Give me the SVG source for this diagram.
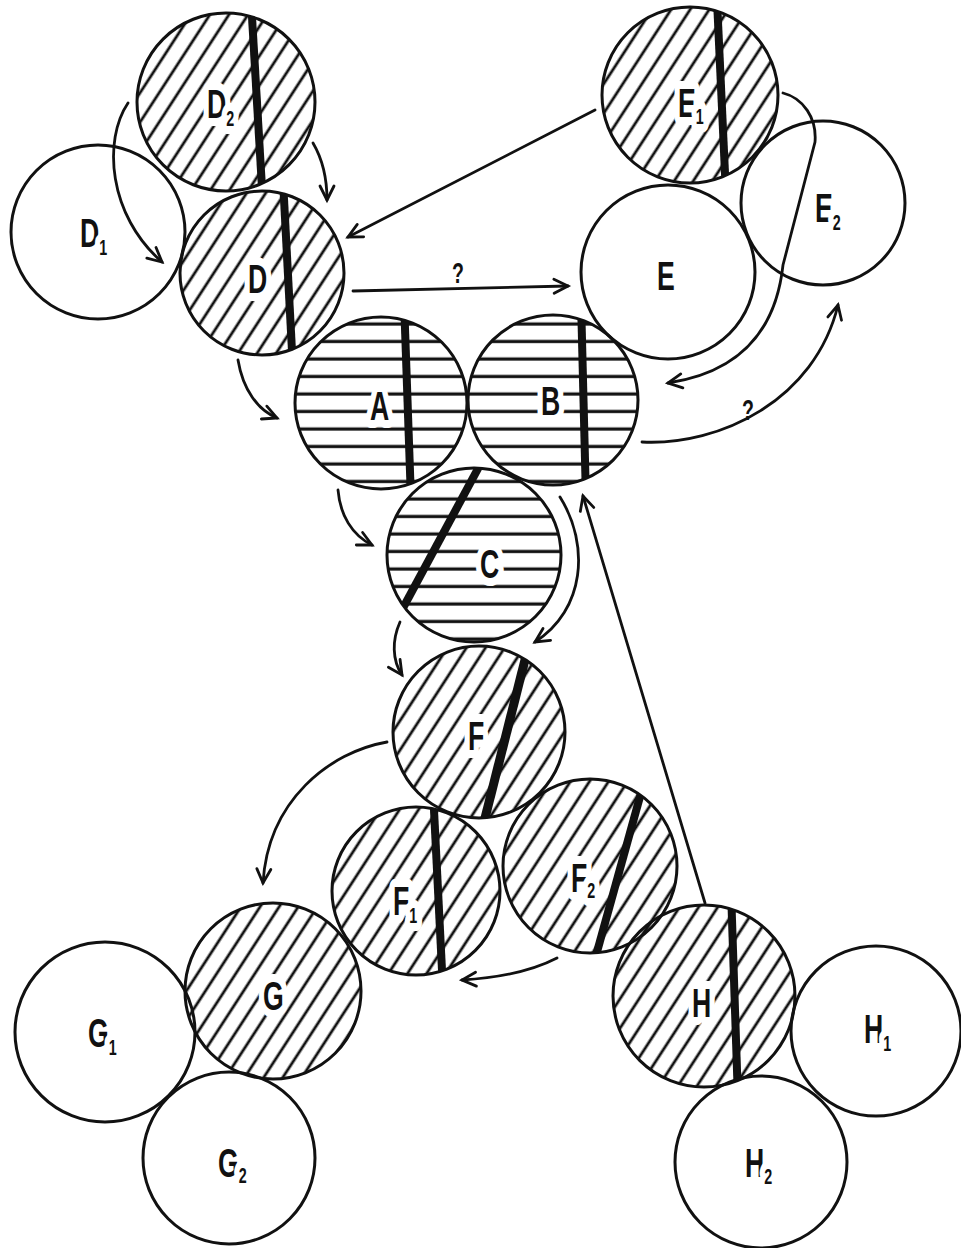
<svg xmlns="http://www.w3.org/2000/svg" width="961" height="1248" viewBox="0 0 961 1248">
<style>
.bg{fill:#fff}
.ol{fill:none;stroke:#111;stroke-width:3}
.bar{stroke:#111;stroke-width:8;stroke-linecap:butt}
.lbl{font-family:"Liberation Sans",Arial,sans-serif;font-weight:bold;font-size:41px;fill:#111;stroke:#fff;stroke-width:16px;stroke-linejoin:round;paint-order:stroke}
.sub{font-size:22px}
.q{font-family:"Liberation Sans",Arial,sans-serif;font-weight:bold;font-size:30px;fill:#111}
.con{fill:none;stroke:#111;stroke-width:2.8;stroke-linecap:round}
.arr{marker-end:url(#ah)}
</style>
<defs>
<pattern id="diag" patternUnits="userSpaceOnUse" width="16" height="16" patternTransform="rotate(33)">
<line x1="8" y1="-2" x2="8" y2="18" stroke="#111" stroke-width="2.8"/>
</pattern>
<pattern id="hor" patternUnits="userSpaceOnUse" width="20" height="17.5">
<line x1="-2" y1="9" x2="22" y2="9" stroke="#111" stroke-width="3.2"/>
</pattern>
<marker id="ah" viewBox="0 0 16 16" refX="15" refY="8" markerWidth="16" markerHeight="16" markerUnits="userSpaceOnUse" orient="auto" overflow="visible">
<path d="M1,1 L15,8 L1,15" fill="none" stroke="#111" stroke-width="2.8" stroke-linecap="round" stroke-linejoin="miter"/>
</marker>
<clipPath id="cD2"><circle cx="226" cy="102" r="89"/></clipPath>
<clipPath id="cD"><circle cx="262" cy="273" r="82"/></clipPath>
<clipPath id="cE1"><circle cx="690" cy="95" r="88"/></clipPath>
<clipPath id="cA"><circle cx="381" cy="403" r="86"/></clipPath>
<clipPath id="cB"><circle cx="553" cy="400" r="85"/></clipPath>
<clipPath id="cC"><circle cx="474" cy="555" r="87"/></clipPath>
<clipPath id="cF"><circle cx="479" cy="732" r="86"/></clipPath>
<clipPath id="cF1"><circle cx="416" cy="891" r="84"/></clipPath>
<clipPath id="cF2"><circle cx="590" cy="866" r="87"/></clipPath>
<clipPath id="cH"><circle cx="704" cy="996" r="91"/></clipPath>
</defs>
<rect class="bg" x="0" y="0" width="961" height="1248"/>

<g id="node-D2">
<circle cx="226" cy="102" r="89" fill="url(#diag)"/>
<line class="bar" x1="251" y1="0" x2="263" y2="205" clip-path="url(#cD2)"/>
<circle class="ol" cx="226" cy="102" r="89"/>
<text class="lbl" transform="translate(207,118) scale(0.65,1)">D<tspan class="sub" dy="8">2</tspan></text>
</g>
<g id="node-D1">
<circle class="ol" cx="98" cy="232" r="87"/>
<text class="lbl" transform="translate(80,247) scale(0.65,1)">D<tspan class="sub" dy="8">1</tspan></text>
</g>
<g id="node-D">
<circle cx="262" cy="273" r="82" fill="url(#diag)"/>
<line class="bar" x1="283" y1="180" x2="293" y2="370" clip-path="url(#cD)"/>
<circle class="ol" cx="262" cy="273" r="82"/>
<text class="lbl" transform="translate(248,293) scale(0.65,1)">D</text>
</g>
<g id="node-E1">
<circle cx="690" cy="95" r="88" fill="url(#diag)"/>
<line class="bar" x1="717" y1="0" x2="726" y2="195" clip-path="url(#cE1)"/>
<circle class="ol" cx="690" cy="95" r="88"/>
<text class="lbl" transform="translate(678,117) scale(0.65,1)">E<tspan class="sub" dy="7">1</tspan></text>
</g>
<g id="node-E">
<circle class="ol" cx="668" cy="272" r="87"/>
<text class="lbl" transform="translate(657,290) scale(0.65,1)">E</text>
</g>
<g id="node-E2">
<circle class="ol" cx="823" cy="203" r="82"/>
<text class="lbl" transform="translate(815,222) scale(0.65,1)">E<tspan class="sub" dy="8">2</tspan></text>
</g>
<g id="node-A">
<circle cx="381" cy="403" r="86" fill="url(#hor)"/>
<line class="bar" x1="404" y1="300" x2="411" y2="500" clip-path="url(#cA)"/>
<circle class="ol" cx="381" cy="403" r="86"/>
<text class="lbl" transform="translate(370,420) scale(0.65,1)">A</text>
</g>
<g id="node-B">
<circle cx="553" cy="400" r="85" fill="url(#hor)"/>
<line class="bar" x1="581" y1="300" x2="586" y2="500" clip-path="url(#cB)"/>
<circle class="ol" cx="553" cy="400" r="85"/>
<text class="lbl" transform="translate(541,415) scale(0.65,1)">B</text>
</g>
<g id="node-C">
<circle cx="474" cy="555" r="87" fill="url(#hor)"/>
<line class="bar" x1="488" y1="450" x2="396" y2="621" clip-path="url(#cC)"/>
<circle class="ol" cx="474" cy="555" r="87"/>
<text class="lbl" transform="translate(480,578) scale(0.65,1)">C</text>
</g>
<g id="node-F">
<circle cx="479" cy="732" r="86" fill="url(#diag)"/>
<line class="bar" x1="530" y1="640" x2="482" y2="830" style="stroke-width:9" clip-path="url(#cF)"/>
<circle class="ol" cx="479" cy="732" r="86"/>
<text class="lbl" transform="translate(468,750) scale(0.65,1)">F</text>
</g>
<g id="node-F1">
<circle cx="416" cy="891" r="84" fill="url(#diag)"/>
<line class="bar" x1="433" y1="790" x2="443" y2="990" clip-path="url(#cF1)"/>
<circle class="ol" cx="416" cy="891" r="84"/>
<text class="lbl" transform="translate(393,915) scale(0.65,1)">F<tspan class="sub" dy="8">1</tspan></text>
</g>
<g id="node-F2">
<circle cx="590" cy="866" r="87" fill="url(#diag)"/>
<line class="bar" x1="646" y1="775" x2="592" y2="970" clip-path="url(#cF2)"/>
<circle class="ol" cx="590" cy="866" r="87"/>
<text class="lbl" transform="translate(571,892) scale(0.65,1)">F<tspan class="sub" dy="6">2</tspan></text>
</g>
<g id="node-G">
<circle cx="273" cy="991" r="88" fill="url(#diag)"/>
<circle class="ol" cx="273" cy="991" r="88"/>
<text class="lbl" transform="translate(263,1010) scale(0.65,1)">G</text>
</g>
<g id="node-G1">
<circle class="ol" cx="105" cy="1032" r="90"/>
<text class="lbl" transform="translate(88,1047) scale(0.65,1)">G<tspan class="sub" dy="8">1</tspan></text>
</g>
<g id="node-G2">
<circle class="ol" cx="229" cy="1158" r="86"/>
<text class="lbl" transform="translate(218,1177) scale(0.65,1)">G<tspan class="sub" dy="6">2</tspan></text>
</g>
<g id="node-H">
<circle cx="704" cy="996" r="91" fill="url(#diag)"/>
<line class="bar" x1="731" y1="890" x2="738" y2="1100" clip-path="url(#cH)"/>
<circle class="ol" cx="704" cy="996" r="91"/>
<text class="lbl" transform="translate(692,1017) scale(0.65,1)">H</text>
</g>
<g id="node-H1">
<circle class="ol" cx="876" cy="1031" r="85"/>
<text class="lbl" transform="translate(864,1043) scale(0.65,1)">H<tspan class="sub" dy="8">1</tspan></text>
</g>
<g id="node-H2">
<circle class="ol" cx="761" cy="1162" r="86"/>
<text class="lbl" transform="translate(745,1177) scale(0.65,1)">H<tspan class="sub" dy="7">2</tspan></text>
</g>

<g id="connectors">
<path class="con arr" d="M313,143 C323,160 327,180 327,200"/>
<path class="con arr" d="M128,103 C103,140 108,215 162,262"/>
<path class="con arr" d="M595,110 L348,237"/>
<path class="con arr" d="M353,291 L568,286"/>
<path class="con arr" d="M783,93 C803,98 817,118 815,142 L783,265 C776,330 740,372 668,383"/>
<path class="con arr" d="M642,442 C720,446 815,400 838,305"/>
<path class="con arr" d="M238,360 C243,390 258,410 277,418"/>
<path class="con arr" d="M338,490 C340,515 352,535 372,545"/>
<path class="con arr" d="M560,497 C590,545 585,610 535,642"/>
<path class="con arr" d="M400,622 C392,640 392,660 402,675"/>
<path class="con arr" d="M705,903 L583,496"/>
<path class="con arr" d="M387,742 C330,752 268,800 263,883"/>
<path class="con arr" d="M557,958 C530,972 495,978 462,980"/>
<text class="q" transform="translate(452,283) scale(0.65,1)">?</text>
<text class="q" transform="translate(742,420) scale(0.65,1)">?</text>
</g>
</svg>
